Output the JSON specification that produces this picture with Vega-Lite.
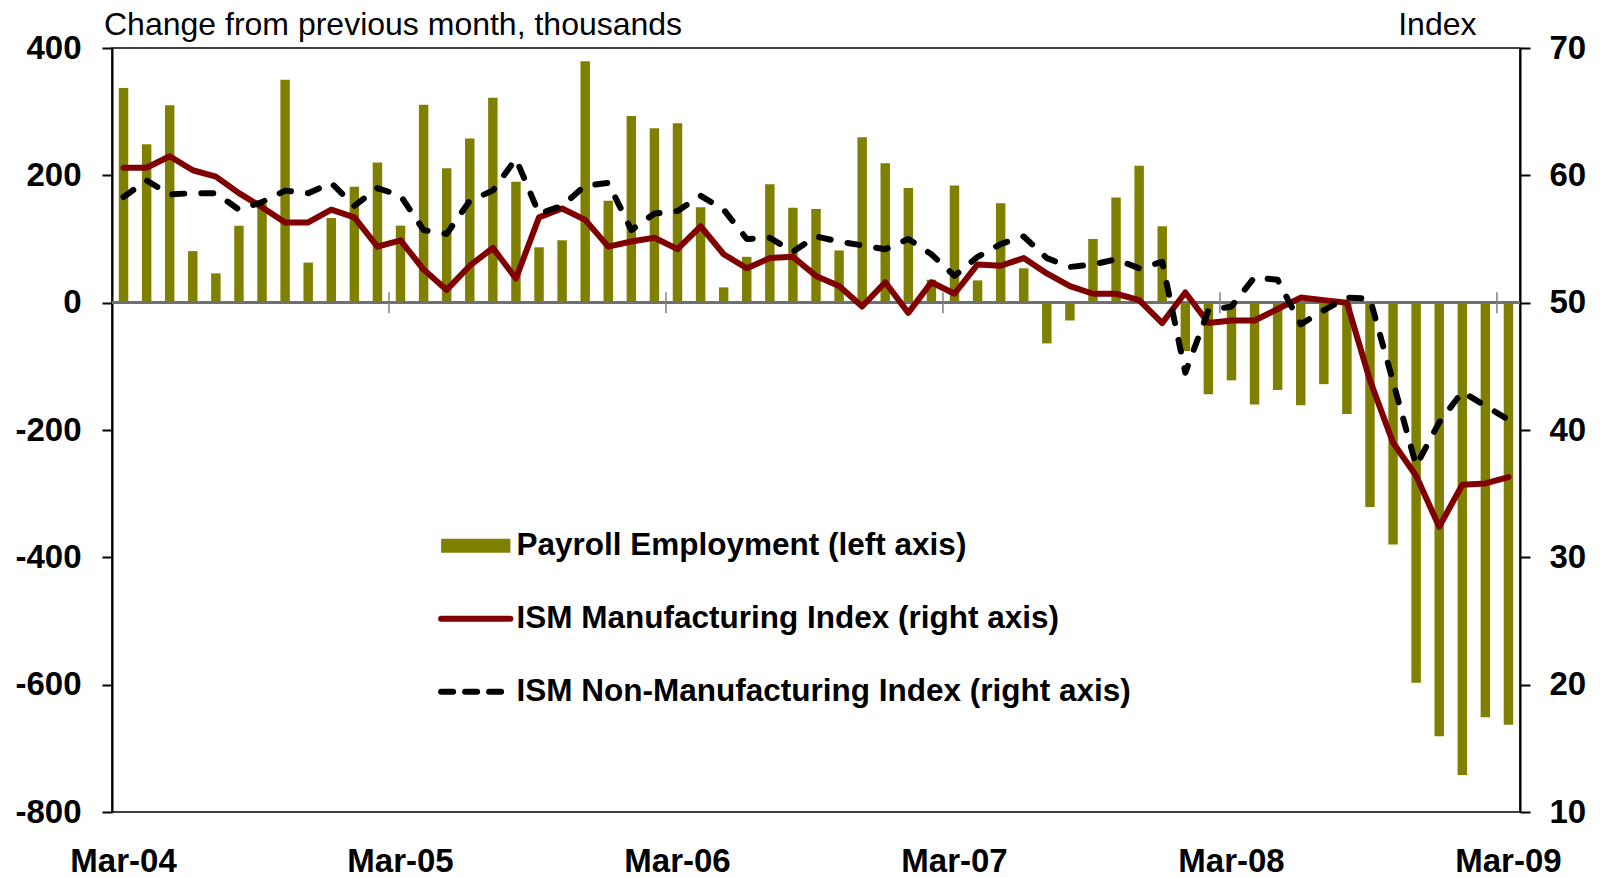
{
  "$schema": "https://vega.github.io/schema/vega-lite/v6.json",
  "width": 1408,
  "height": 764,
  "autosize": {"type": "none"},
  "padding": {"left": 112, "top": 48, "right": 84, "bottom": 65},
  "background": "white",
  "config": {"view": {"stroke": "#000000", "strokeWidth": 1.5}, "font": "Liberation Sans"},
  "data": {
    "values": [
      {"month": "Mar-04", "payroll": 337, "ism_mfg": 60.6, "ism_nonmfg": 58.3},
      {"month": "Apr-04", "payroll": 249, "ism_mfg": 60.6, "ism_nonmfg": 59.6},
      {"month": "May-04", "payroll": 310, "ism_mfg": 61.5, "ism_nonmfg": 58.5},
      {"month": "Jun-04", "payroll": 81, "ism_mfg": 60.4, "ism_nonmfg": 58.6},
      {"month": "Jul-04", "payroll": 46, "ism_mfg": 59.9, "ism_nonmfg": 58.6},
      {"month": "Aug-04", "payroll": 121, "ism_mfg": 58.6, "ism_nonmfg": 57.3},
      {"month": "Sep-04", "payroll": 155, "ism_mfg": 57.5, "ism_nonmfg": 57.9},
      {"month": "Oct-04", "payroll": 350, "ism_mfg": 56.3, "ism_nonmfg": 58.8},
      {"month": "Nov-04", "payroll": 63, "ism_mfg": 56.3, "ism_nonmfg": 58.6},
      {"month": "Dec-04", "payroll": 133, "ism_mfg": 57.3, "ism_nonmfg": 59.4},
      {"month": "Jan-05", "payroll": 182, "ism_mfg": 56.7, "ism_nonmfg": 57.6},
      {"month": "Feb-05", "payroll": 220, "ism_mfg": 54.4, "ism_nonmfg": 59.0},
      {"month": "Mar-05", "payroll": 121, "ism_mfg": 54.9, "ism_nonmfg": 58.4},
      {"month": "Apr-05", "payroll": 311, "ism_mfg": 52.6, "ism_nonmfg": 55.7},
      {"month": "May-05", "payroll": 211, "ism_mfg": 51.0, "ism_nonmfg": 55.4},
      {"month": "Jun-05", "payroll": 258, "ism_mfg": 52.9, "ism_nonmfg": 58.0},
      {"month": "Jul-05", "payroll": 322, "ism_mfg": 54.3, "ism_nonmfg": 58.8},
      {"month": "Aug-05", "payroll": 190, "ism_mfg": 51.9, "ism_nonmfg": 61.3},
      {"month": "Sep-05", "payroll": 87, "ism_mfg": 56.7, "ism_nonmfg": 57.0},
      {"month": "Oct-05", "payroll": 98, "ism_mfg": 57.4, "ism_nonmfg": 57.6},
      {"month": "Nov-05", "payroll": 379, "ism_mfg": 56.5, "ism_nonmfg": 59.2},
      {"month": "Dec-05", "payroll": 160, "ism_mfg": 54.4, "ism_nonmfg": 59.4},
      {"month": "Jan-06", "payroll": 293, "ism_mfg": 54.8, "ism_nonmfg": 55.7},
      {"month": "Feb-06", "payroll": 274, "ism_mfg": 55.1, "ism_nonmfg": 57.0},
      {"month": "Mar-06", "payroll": 282, "ism_mfg": 54.2, "ism_nonmfg": 57.2},
      {"month": "Apr-06", "payroll": 150, "ism_mfg": 56.0, "ism_nonmfg": 58.4},
      {"month": "May-06", "payroll": 24, "ism_mfg": 53.8, "ism_nonmfg": 57.3},
      {"month": "Jun-06", "payroll": 72, "ism_mfg": 52.7, "ism_nonmfg": 55.0},
      {"month": "Jul-06", "payroll": 186, "ism_mfg": 53.5, "ism_nonmfg": 55.1},
      {"month": "Aug-06", "payroll": 149, "ism_mfg": 53.6, "ism_nonmfg": 54.0},
      {"month": "Sep-06", "payroll": 147, "ism_mfg": 52.1, "ism_nonmfg": 55.2},
      {"month": "Oct-06", "payroll": 82, "ism_mfg": 51.3, "ism_nonmfg": 54.8},
      {"month": "Nov-06", "payroll": 260, "ism_mfg": 49.7, "ism_nonmfg": 54.5},
      {"month": "Dec-06", "payroll": 219, "ism_mfg": 51.6, "ism_nonmfg": 54.2},
      {"month": "Jan-07", "payroll": 180, "ism_mfg": 49.2, "ism_nonmfg": 55.0},
      {"month": "Feb-07", "payroll": 36, "ism_mfg": 51.6, "ism_nonmfg": 53.8},
      {"month": "Mar-07", "payroll": 184, "ism_mfg": 50.7, "ism_nonmfg": 52.1},
      {"month": "Apr-07", "payroll": 35, "ism_mfg": 53.0, "ism_nonmfg": 53.6},
      {"month": "May-07", "payroll": 156, "ism_mfg": 52.9, "ism_nonmfg": 54.6},
      {"month": "Jun-07", "payroll": 54, "ism_mfg": 53.5, "ism_nonmfg": 55.2},
      {"month": "Jul-07", "payroll": -64, "ism_mfg": 52.3, "ism_nonmfg": 53.5},
      {"month": "Aug-07", "payroll": -28, "ism_mfg": 51.3, "ism_nonmfg": 52.8},
      {"month": "Sep-07", "payroll": 100, "ism_mfg": 50.7, "ism_nonmfg": 53.0},
      {"month": "Oct-07", "payroll": 165, "ism_mfg": 50.7, "ism_nonmfg": 53.4},
      {"month": "Nov-07", "payroll": 215, "ism_mfg": 50.2, "ism_nonmfg": 52.7},
      {"month": "Dec-07", "payroll": 120, "ism_mfg": 48.4, "ism_nonmfg": 53.2},
      {"month": "Jan-08", "payroll": -76, "ism_mfg": 50.8, "ism_nonmfg": 44.5},
      {"month": "Feb-08", "payroll": -144, "ism_mfg": 48.4, "ism_nonmfg": 49.4},
      {"month": "Mar-08", "payroll": -122, "ism_mfg": 48.6, "ism_nonmfg": 49.7},
      {"month": "Apr-08", "payroll": -160, "ism_mfg": 48.6, "ism_nonmfg": 52.0},
      {"month": "May-08", "payroll": -137, "ism_mfg": 49.5, "ism_nonmfg": 51.8},
      {"month": "Jun-08", "payroll": -161, "ism_mfg": 50.4, "ism_nonmfg": 48.3},
      {"month": "Jul-08", "payroll": -128, "ism_mfg": 50.2, "ism_nonmfg": 49.4},
      {"month": "Aug-08", "payroll": -175, "ism_mfg": 50.0, "ism_nonmfg": 50.4},
      {"month": "Sep-08", "payroll": -321, "ism_mfg": 43.9, "ism_nonmfg": 50.3},
      {"month": "Oct-08", "payroll": -380, "ism_mfg": 39.0, "ism_nonmfg": 43.8},
      {"month": "Nov-08", "payroll": -597, "ism_mfg": 36.4, "ism_nonmfg": 37.2},
      {"month": "Dec-08", "payroll": -681, "ism_mfg": 32.4, "ism_nonmfg": 40.6},
      {"month": "Jan-09", "payroll": -742, "ism_mfg": 35.7, "ism_nonmfg": 43.0},
      {"month": "Feb-09", "payroll": -651, "ism_mfg": 35.8, "ism_nonmfg": 41.9},
      {"month": "Mar-09", "payroll": -663, "ism_mfg": 36.3, "ism_nonmfg": 40.8}
    ]
  },
  "layer": [
    {
      "layer": [
        {
          "mark": {"type": "bar", "width": {"band": 0.41}},
          "encoding": {
            "x": {
              "field": "month", "type": "ordinal", "sort": null,
              "scale": {"type": "band", "paddingInner": 0, "paddingOuter": 0},
              "axis": {
                "values": ["Mar-04", "Mar-05", "Mar-06", "Mar-07", "Mar-08", "Mar-09"],
                "title": null, "domain": false, "ticks": false, "labelAngle": 0,
                "labelFont": "Liberation Sans", "labelFontSize": 33, "labelFontWeight": "bold",
                "labelColor": "#000000", "labelPadding": 33, "labelBaseline": "top",
                "labelOverlap": false, "labelFlush": false, "labelBound": false
              }
            },
            "y": {
              "field": "payroll", "type": "quantitative",
              "scale": {"domain": [-800, 400], "nice": false, "zero": false},
              "axis": {
                "orient": "left", "values": [-800, -600, -400, -200, 0, 200, 400],
                "labelExpr": "'' + datum.value",
                "title": "Change from previous month, thousands",
                "titleAngle": 0, "titleAlign": "left", "titleBaseline": "alphabetic",
                "titleX": -8.5, "titleY": -14,
                "titleFont": "Liberation Sans", "titleFontSize": 32, "titleFontWeight": "normal", "titleColor": "#000000",
                "labelFont": "Liberation Sans", "labelFontSize": 33, "labelFontWeight": "bold", "labelColor": "#000000",
                "labelPadding": 21, "tickSize": 10, "tickColor": "#000000", "tickWidth": 2,
                "domainColor": "#000000", "domainWidth": 2, "grid": false
              }
            },
            "color": {
              "datum": "Payroll Employment (left axis)", "type": "nominal",
              "scale": {
                "domain": ["Payroll Employment (left axis)", "ISM Manufacturing Index (right axis)", "ISM Non-Manufacturing Index (right axis)"],
                "range": ["#808000", "#800000", "#000000"]
              },
              "legend": {
                "title": null, "orient": "none", "legendX": 364, "legendY": 482,
                "direction": "vertical", "padding": 0,
                "symbolType": "stroke", "symbolSize": 4800, "symbolStrokeWidth": 6, "symbolOffset": -16,
                "labelFont": "Liberation Sans", "labelFontSize": 31.5, "labelFontWeight": "bold",
                "labelColor": "#000000", "labelLimit": 1000, "labelOffset": 25, "rowPadding": 40,
                "encode": {
                  "symbols": {
                    "update": {
                      "shape": {"signal": "datum.value === 'Payroll Employment (left axis)' ? 'M-1,-0.2H1V0.2H-1Z' : 'stroke'"},
                      "fill": {"signal": "datum.value === 'Payroll Employment (left axis)' ? '#808000' : 'transparent'"},
                      "opacity": {"value": 1},
                      "stroke": {"signal": "datum.value === 'Payroll Employment (left axis)' ? 'transparent' : (datum.value === 'ISM Manufacturing Index (right axis)' ? '#800000' : '#000000')"},
                      "strokeWidth": {"signal": "datum.value === 'Payroll Employment (left axis)' ? 0 : 6"},
                      "strokeDash": {"signal": "datum.value === 'ISM Non-Manufacturing Index (right axis)' ? [12, 12] : [1, 0]"},
                      "strokeCap": {"value": "round"}
                    }
                  }
                }
              }
            }
          }
        },
        {
          "mark": {"type": "rule", "color": "#707070", "strokeWidth": 2},
          "encoding": {"y": {"datum": 0}}
        },
        {
          "transform": [{"filter": {"field": "month", "oneOf": ["Mar-05", "Mar-06", "Mar-07", "Mar-08", "Mar-09"]}}],
          "mark": {"type": "rule", "color": "#808080", "strokeWidth": 1.5},
          "encoding": {
            "x": {"field": "month", "type": "ordinal", "sort": null, "bandPosition": 0},
            "y": {"datum": 16.5},
            "y2": {"datum": -16.5}
          }
        }
      ]
    },
    {
      "layer": [
        {
          "mark": {"type": "line", "strokeWidth": 6, "strokeJoin": "round", "strokeCap": "round"},
          "encoding": {
            "x": {"field": "month", "type": "ordinal", "sort": null},
            "y": {
              "field": "ism_mfg", "type": "quantitative",
              "scale": {"domain": [10, 70], "nice": false, "zero": false},
              "axis": {
                "orient": "right", "values": [10, 20, 30, 40, 50, 60, 70],
                "title": "Index", "titleAngle": 0, "titleAlign": "right", "titleBaseline": "alphabetic",
                "titleX": -44, "titleY": -14,
                "titleFont": "Liberation Sans", "titleFontSize": 32, "titleFontWeight": "normal", "titleColor": "#000000",
                "labelFont": "Liberation Sans", "labelFontSize": 33, "labelFontWeight": "bold", "labelColor": "#000000",
                "labelPadding": 19, "tickSize": 10, "tickColor": "#000000", "tickWidth": 2,
                "domainColor": "#000000", "domainWidth": 2, "grid": false
              }
            },
            "color": {"datum": "ISM Manufacturing Index (right axis)", "type": "nominal"}
          }
        },
        {
          "mark": {"type": "line", "strokeWidth": 6, "strokeJoin": "round", "strokeCap": "round", "strokeDash": [12, 17]},
          "encoding": {
            "x": {"field": "month", "type": "ordinal", "sort": null},
            "y": {"field": "ism_nonmfg", "type": "quantitative"},
            "color": {"datum": "ISM Non-Manufacturing Index (right axis)", "type": "nominal"}
          }
        }
      ]
    }
  ],
  "resolve": {"scale": {"y": "independent"}}
}
